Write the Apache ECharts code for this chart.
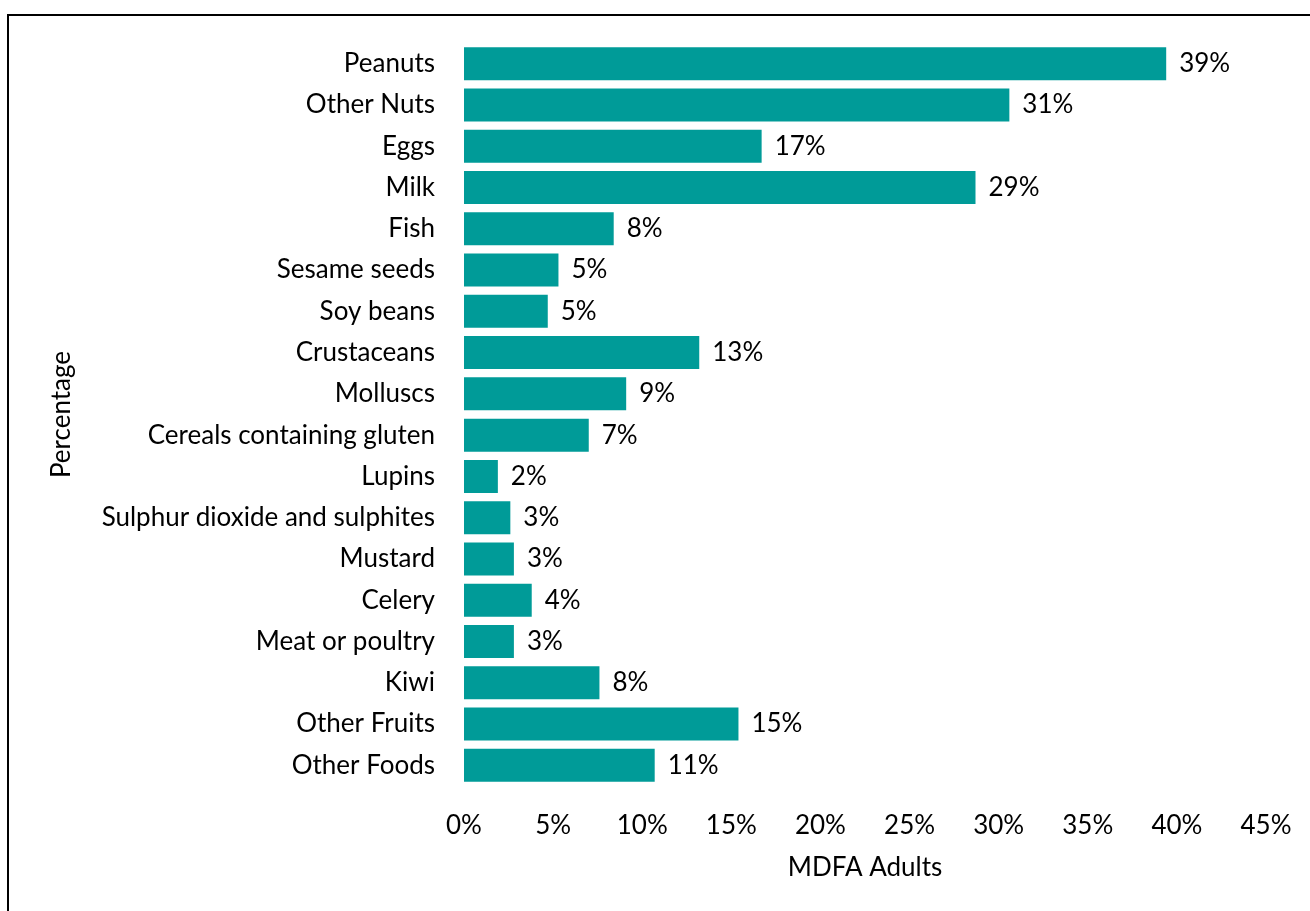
<!DOCTYPE html>
<html>
<head>
<meta charset="utf-8">
<script src="https://cdn.jsdelivr.net/npm/echarts@6/dist/echarts.min.js"></script>
<style>
  html, body { margin: 0; padding: 0; background: #fff; }
  #chart { width: 1310px; height: 911px; }
</style>
</head>
<body>
<div id="chart"></div>
<script>
// Food categories, top to bottom
const categories = [
  'Peanuts', 'Other Nuts', 'Eggs', 'Milk', 'Fish', 'Sesame seeds', 'Soy beans',
  'Crustaceans', 'Molluscs', 'Cereals containing gluten', 'Lupins',
  'Sulphur dioxide and sulphites', 'Mustard', 'Celery', 'Meat or poultry',
  'Kiwi', 'Other Fruits', 'Other Foods'
];
// Share of MDFA adults (%)
const values = [
  39.4, 30.6, 16.7, 28.7, 8.4, 5.3, 4.7,
  13.2, 9.1, 7.0, 1.9,
  2.6, 2.8, 3.8, 2.8,
  7.6, 15.4, 10.7
];
// Axis ticks (%)
const xTicks = [0, 5, 10, 15, 20, 25, 30, 35, 40, 45];

const FONT = 'Lato';
const FS = 26;
const chart = echarts.init(document.getElementById('chart'), null, { renderer: 'canvas' });

chart.setOption({
  backgroundColor: '#ffffff',
  animation: false,
  textStyle: { fontFamily: FONT, color: '#000' },
  graphic: [{
    type: 'rect',
    shape: { x: 8, y: 15, width: 1400, height: 1000 },
    style: { fill: 'none', stroke: '#000', lineWidth: 2 },
    silent: true
  }],
  grid: { left: 464, right: 44, top: 43, bottom: 125, containLabel: false },
  xAxis: {
    type: 'value',
    min: xTicks[0],
    max: xTicks[xTicks.length - 1],
    interval: xTicks[1] - xTicks[0],
    name: 'MDFA Adults',
    nameLocation: 'middle',
    nameGap: 69,
    nameTextStyle: { fontFamily: FONT, fontSize: FS, color: '#000' },
    axisLine: { show: false },
    axisTick: { show: false },
    splitLine: { show: false },
    axisLabel: {
      formatter: v => v + '%',
      fontFamily: FONT, fontSize: FS, color: '#000', margin: 27
    }
  },
  yAxis: {
    type: 'category',
    data: categories,
    inverse: true,
    name: 'Percentage',
    nameLocation: 'middle',
    nameGap: 389,
    nameRotate: 90,
    nameTextStyle: { fontFamily: FONT, fontSize: FS, color: '#000' },
    axisLine: { show: false },
    axisTick: { show: false },
    splitLine: { show: false },
    axisLabel: { fontFamily: FONT, fontSize: FS, color: '#000', margin: 29 }
  },
  series: [{
    type: 'bar',
    data: values,
    barCategoryGap: '20%',
    itemStyle: { color: '#009B98' },
    label: {
      show: true,
      position: 'right',
      distance: 13,
      formatter: p => Math.round(p.value) + '%',
      fontFamily: FONT, fontSize: FS, color: '#000'
    }
  }]
});
</script>
</body>
</html>
